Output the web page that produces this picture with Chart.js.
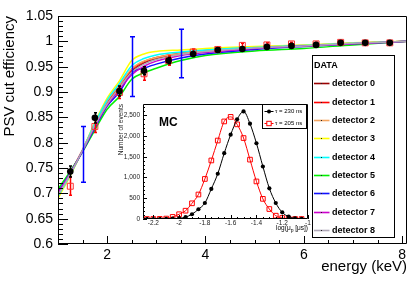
<!DOCTYPE html>
<html>
<head>
<meta charset="utf-8">
<script src="https://cdn.jsdelivr.net/npm/chart.js@4.4.0/dist/chart.umd.min.js"></script>
<style>
  html, body { margin: 0; padding: 0; background: #fff; }
  #wrap { position: relative; width: 415px; height: 281px; }
  #main { position: absolute; left: 0; top: 0; }
  #inset { position: absolute; left: 110px; top: 97px; }
</style>
</head>
<body>
<div id="wrap">
  <canvas id="main" width="415" height="281"></canvas>
  <canvas id="inset" width="205" height="138"></canvas>
</div>
<script>
const FONT = '"Liberation Sans", Arial, Helvetica, sans-serif';

// ---- main plot: efficiency vs energy ----
const xTicks = [2, 4, 6, 8];
const yTicks = [0.6, 0.65, 0.7, 0.75, 0.8, 0.85, 0.9, 0.95, 1.0, 1.05];
const yTickLabels = ['0.6', '0.65', '0.7', '0.75', '0.8', '0.85', '0.9', '0.95', '1', '1.05'];

const energy = [1.25, 1.75, 2.25, 2.75, 3.25, 3.75, 4.25, 4.75, 5.25, 5.75, 6.25, 6.75, 7.25, 7.75];
const effBlack = [0.743, 0.849, 0.902, 0.942, 0.962, 0.975, 0.983, 0.985, 0.989, 0.991, 0.993, 0.997, 0.997, 0.997];
const errBlack = [0.011, 0.010, 0.010, 0.008, 0.006, 0.005, 0.004, 0.004, 0.003, 0.003, 0.003, 0.003, 0.003, 0.003];
const effRed = [0.714, 0.832, 0.899, 0.936, 0.962, 0.979, 0.984, 0.992, 0.993, 0.995, 0.995, 0.998, 0.997, 0.997];
const errRed = [0.018, 0.012, 0.012, 0.013, 0.009, 0.006, 0.005, 0.004, 0.004, 0.003, 0.003, 0.003, 0.003, 0.003];

const blueE = [1.5, 2.5, 3.5];
const blueEff = [0.777, 0.950, 0.976];
const blueErr = [0.055, 0.059, 0.048];

const curveE = [1.0, 1.25, 1.5, 1.75, 2.0, 2.25, 2.5, 2.75, 3.0, 3.5, 4.0, 5.0, 6.0, 7.0, 8.1];
const det0 = [0.697, 0.739, 0.785, 0.835, 0.878, 0.911, 0.941, 0.957, 0.966, 0.975, 0.980, 0.987, 0.991, 0.996, 1.000];
const det1 = [0.698, 0.740, 0.786, 0.836, 0.880, 0.913, 0.944, 0.960, 0.968, 0.977, 0.982, 0.988, 0.992, 0.996, 1.000];
const det2 = [0.693, 0.737, 0.785, 0.837, 0.882, 0.914, 0.946, 0.961, 0.968, 0.976, 0.981, 0.987, 0.991, 0.996, 1.000];
const det3 = [0.690, 0.735, 0.785, 0.840, 0.888, 0.922, 0.962, 0.975, 0.980, 0.983, 0.986, 0.990, 0.993, 0.997, 1.000];
const det4 = [0.694, 0.737, 0.785, 0.838, 0.884, 0.917, 0.952, 0.966, 0.973, 0.979, 0.983, 0.988, 0.992, 0.996, 1.000];
const det5 = [0.708, 0.744, 0.782, 0.825, 0.866, 0.891, 0.925, 0.938, 0.947, 0.962, 0.972, 0.981, 0.986, 0.993, 1.000];
const det6 = [0.702, 0.741, 0.783, 0.829, 0.872, 0.900, 0.938, 0.947, 0.955, 0.967, 0.975, 0.984, 0.990, 0.995, 1.000];
const det7 = [0.700, 0.740, 0.784, 0.832, 0.874, 0.905, 0.934, 0.951, 0.961, 0.972, 0.978, 0.986, 0.991, 0.995, 1.000];
const det8 = [0.696, 0.738, 0.785, 0.834, 0.876, 0.909, 0.939, 0.955, 0.964, 0.974, 0.980, 0.987, 0.991, 0.996, 1.000];
const detCurves = [det0, det1, det2, det3, det4, det5, det6, det7, det8];
const detNames = ['detector 0', 'detector 1', 'detector 2', 'detector 3', 'detector 4',
                  'detector 5', 'detector 6', 'detector 7', 'detector 8'];
const detColors = ['#990000', '#ff0000', '#f4a460', '#ffff00', '#00ffff',
                   '#00ee00', '#1010ff', '#cc00cc', '#b0a8b8'];

// ---- inset: MC distributions ----
const mcX = [-2.25, -2.2, -2.15, -2.1, -2.05, -2.0, -1.95, -1.9, -1.85, -1.8, -1.75, -1.7, -1.65,
             -1.6, -1.55, -1.5, -1.45, -1.4, -1.35, -1.3, -1.25, -1.2, -1.15, -1.1, -1.05];
const tau230 = [0, 0, 0, 5, 10, 18, 45, 115, 235, 385, 725, 1090, 1585,
                2030, 2400, 2590, 2295, 1825, 1265, 740, 385, 160, 56, 15, 3];
const tau205 = [0, 0, 3, 10, 50, 115, 200, 378, 590, 965, 1410, 1890, 2350,
                2460, 2280, 1950, 1430, 905, 485, 240, 80, 25, 6, 0, 0];
const mcXTicks = [-2.2, -2.0, -1.8, -1.6, -1.4, -1.2, -1.0];
const mcXLabels = ['-2.2', '-2', '-1.8', '-1.6', '-1.4', '-1.2', '-1'];
const mcYTicks = [0, 500, 1000, 1500, 2000, 2500];

const pts = (xs, ys) => xs.map((x, i) => ({ x: x, y: ys[i] }));

// error bars drawn under each dataset that carries them
const errorBars = {
  id: 'errorBars',
  beforeDatasetDraw(chart, args) {
    const ds = chart.data.datasets[args.index];
    if (!ds.errors) return;
    const { ctx, scales: { x, y } } = chart;
    ctx.save();
    ctx.strokeStyle = ds.errorColor;
    ctx.lineWidth = ds.errorWidth;
    ds.data.forEach((p, i) => {
      const px = Math.round(x.getPixelForValue(p.x)) + 0.5;
      const top = y.getPixelForValue(p.y + ds.errors[i]);
      const bot = y.getPixelForValue(p.y - ds.errors[i]);
      const c = ds.capWidth;
      ctx.beginPath();
      ctx.moveTo(px, top); ctx.lineTo(px, bot);
      ctx.moveTo(px - c, top); ctx.lineTo(px + c, top);
      ctx.moveTo(px - c, bot); ctx.lineTo(px + c, bot);
      ctx.stroke();
    });
    ctx.restore();
  }
};

// ROOT-like frame with ticks pointing inwards
function frameTicks(cfg) {
  return {
    id: 'frameTicks',
    afterDraw(chart) {
      const { ctx, chartArea: a, scales: { x, y } } = chart;
      const L = Math.round(a.left), T = Math.round(a.top), R = Math.round(a.right), B = Math.round(a.bottom);
      ctx.save();
      ctx.strokeStyle = '#000';
      ctx.lineWidth = 1;
      ctx.beginPath();
      ctx.rect(L + 0.5, T + 0.5, R - L - 1, B - T - 1);
      const minors = (s, step) => {
        const out = [];
        const n0 = Math.ceil(s.min / step - 1e-6), n1 = Math.floor(s.max / step + 1e-6);
        for (let n = n0; n <= n1; n++) out.push(n * step);
        return out;
      };
      minors(y, cfg.yMinor).forEach(v => {
        const py = Math.round(y.getPixelForValue(v)) + 0.5;
        ctx.moveTo(L, py); ctx.lineTo(L + cfg.minorLen, py);
      });
      y.ticks.forEach(t => {
        const py = Math.round(y.getPixelForValue(t.value)) + 0.5;
        ctx.moveTo(L, py); ctx.lineTo(L + cfg.majorLen, py);
      });
      minors(x, cfg.xMinor).forEach(v => {
        const px = Math.round(x.getPixelForValue(v)) + 0.5;
        ctx.moveTo(px, B); ctx.lineTo(px, B - cfg.minorLenX);
      });
      x.ticks.forEach(t => {
        const px = Math.round(x.getPixelForValue(t.value)) + 0.5;
        ctx.moveTo(px, B); ctx.lineTo(px, B - cfg.majorLenX);
      });
      ctx.stroke();
      ctx.restore();
    }
  };
}

const mainLegend = {
  id: 'mainLegend',
  afterDraw(chart) {
    const ctx = chart.ctx;
    ctx.save();
    ctx.fillStyle = '#fff';
    ctx.fillRect(312, 55, 83, 183);
    ctx.strokeStyle = '#000';
    ctx.lineWidth = 1;
    ctx.strokeRect(312.5, 55.5, 82, 182);
    ctx.fillStyle = '#000';
    ctx.textBaseline = 'middle';
    ctx.font = 'bold 9px ' + FONT;
    ctx.fillText('DATA', 314, 65.5);
    detNames.forEach((name, i) => {
      const yy = Math.round(83.3 + 18.35 * i) + 0.5;
      ctx.strokeStyle = detColors[i];
      ctx.lineWidth = 1.6;
      ctx.beginPath(); ctx.moveTo(314, yy); ctx.lineTo(329.5, yy); ctx.stroke();
      ctx.fillStyle = '#222';
      ctx.fillRect(321, yy - 0.5, 1, 1);
      ctx.fillStyle = '#000';
      ctx.fillText(name, 332, yy);
    });
    ctx.restore();
  }
};

const detDatasets = detCurves.map((vals, i) => ({
  label: detNames[i],
  data: pts(curveE, vals),
  showLine: true,
  borderColor: detColors[i],
  borderWidth: 1.5,
  pointRadius: 0,
  cubicInterpolationMode: 'monotone',
  order: 20 - i
}));

new Chart(document.getElementById('main'), {
  type: 'scatter',
  data: {
    datasets: [
      ...detDatasets,
      { label: 'blue', data: pts(blueE, blueEff), pointRadius: 0, errors: blueErr,
        errorColor: '#0000ff', errorWidth: 1.5, capWidth: 2.5, order: 2 },
      { label: 'red', data: pts(energy, effRed), pointStyle: 'rect', pointRadius: 4.2,
        pointBackgroundColor: 'rgba(0,0,0,0)', pointBorderColor: '#ff3030', pointBorderWidth: 1,
        errors: errRed, errorColor: '#ff0000', errorWidth: 1.5, capWidth: 1.5, order: 1 },
      { label: 'black', data: pts(energy, effBlack), pointStyle: 'circle', pointRadius: 3.3,
        pointBackgroundColor: '#000', pointBorderColor: '#000', pointBorderWidth: 0,
        errors: errBlack, errorColor: '#000', errorWidth: 1.5, capWidth: 1.5, order: 0 }
    ]
  },
  options: {
    responsive: false,
    animation: false,
    devicePixelRatio: 1,
    layout: { padding: { top: 16, right: 8, left: 0, bottom: 0 } },
    plugins: { legend: { display: false }, tooltip: { enabled: false } },
    scales: {
      x: {
        type: 'linear', min: 1.0, max: 8.1,
        afterBuildTicks: s => { s.ticks = xTicks.map(v => ({ value: v })); },
        afterFit: s => { s.height = 37; },
        grid: { display: false, drawTicks: false }, border: { display: false },
        ticks: { color: '#000', font: { family: FONT, size: 14 }, padding: 3, maxRotation: 0, autoSkip: false },
        title: { display: true, text: 'energy (keV)', align: 'end', color: '#000',
                 font: { family: FONT, size: 15 }, padding: { top: 0, bottom: 5 } }
      },
      y: {
        type: 'linear', min: 0.6, max: 1.05,
        afterBuildTicks: s => { s.ticks = yTicks.map(v => ({ value: v })); },
        afterFit: s => { s.width = 58; },
        grid: { display: false, drawTicks: false }, border: { display: false },
        ticks: { color: '#000', font: { family: FONT, size: 14 }, padding: 5, autoSkip: false,
                 callback: (v, i) => yTickLabels[i] },
        title: { display: true, text: 'PSV cut efficiency', align: 'end', color: '#000',
                 font: { family: FONT, size: 15 }, padding: { top: 1, bottom: 0 } }
      }
    }
  },
  plugins: [errorBars, frameTicks({ yMinor: 0.01, xMinor: 0.5, majorLen: 10, minorLen: 5, majorLenX: 8, minorLenX: 4 }), mainLegend]
});

// inset labels, legend and axis title
const insetDecor = {
  id: 'insetDecor',
  afterDraw(chart) {
    const { ctx, chartArea: a } = chart;
    ctx.save();
    ctx.fillStyle = '#000';
    ctx.textBaseline = 'alphabetic';
    ctx.font = 'bold 12px ' + FONT;
    ctx.fillText('MC', 49, 28.5);

    // x title with subscript
    const parts = [['log(\u03bc', 6.5, 0], ['p', 5, 1.5], [' [\u03bcs])', 6.5, 0]];
    let w = 0;
    parts.forEach(p => { ctx.font = p[1] + 'px ' + FONT; w += ctx.measureText(p[0]).width; });
    let xx = a.right - w;
    parts.forEach(p => {
      ctx.font = p[1] + 'px ' + FONT;
      ctx.fillText(p[0], xx, 133 + p[2]);
      xx += ctx.measureText(p[0]).width;
    });

    // legend box
    ctx.fillStyle = '#fff';
    ctx.fillRect(153, 7, 44, 24);
    ctx.strokeStyle = '#000';
    ctx.lineWidth = 1;
    ctx.strokeRect(152.5, 7.5, 44, 24);
    ctx.font = '6px ' + FONT;
    ctx.textBaseline = 'middle';
    chart.data.datasets.forEach((ds, i) => {
      const yy = i === 0 ? 14.5 : 26.5;
      ctx.strokeStyle = ds.borderColor;
      ctx.lineWidth = 1;
      ctx.beginPath(); ctx.moveTo(154.5, yy); ctx.lineTo(163.5, yy); ctx.stroke();
      if (i === 0) {
        ctx.fillStyle = '#000';
        ctx.beginPath(); ctx.arc(159, yy, 2, 0, Math.PI * 2); ctx.fill();
      } else {
        ctx.fillStyle = '#fff';
        ctx.fillRect(156.8, yy - 2.2, 4.4, 4.4);
        ctx.strokeRect(156.8, yy - 2.2, 4.4, 4.4);
      }
      ctx.fillStyle = '#000';
      ctx.fillText(ds.label, 165, yy);
    });
    ctx.restore();
  }
};

new Chart(document.getElementById('inset'), {
  type: 'scatter',
  data: {
    datasets: [
      { label: '\u03c4 = 230 ns', data: pts(mcX, tau230), showLine: true, borderColor: '#000', borderWidth: 1,
        cubicInterpolationMode: 'monotone', pointStyle: 'circle', pointRadius: 2.1,
        pointBackgroundColor: '#000', pointBorderWidth: 0 },
      { label: '\u03c4 = 205 ns', data: pts(mcX, tau205), showLine: true, borderColor: '#ff0000', borderWidth: 1,
        cubicInterpolationMode: 'monotone', pointStyle: 'rect', pointRadius: 3.3,
        pointBackgroundColor: 'rgba(0,0,0,0)', pointBorderColor: '#ff0000', pointBorderWidth: 1 }
    ]
  },
  options: {
    responsive: false,
    animation: false,
    devicePixelRatio: 1,
    layout: { padding: { top: 7, right: 7, left: 0, bottom: 0 } },
    plugins: { legend: { display: false }, tooltip: { enabled: false } },
    scales: {
      x: {
        type: 'linear', min: -2.28, max: -1.0,
        afterBuildTicks: s => { s.ticks = mcXTicks.map(v => ({ value: v })); },
        afterFit: s => { s.height = 16; },
        grid: { display: false, drawTicks: false }, border: { display: false },
        ticks: { color: '#222', font: { family: FONT, size: 6.5 }, padding: 0, maxRotation: 0, autoSkip: false,
                 callback: (v, i) => mcXLabels[i] }
      },
      y: {
        type: 'linear', min: 0, max: 2770,
        afterBuildTicks: s => { s.ticks = mcYTicks.map(v => ({ value: v })); },
        afterFit: s => { s.width = 33; },
        grid: { display: false, drawTicks: false }, border: { display: false },
        ticks: { color: '#222', font: { family: FONT, size: 6.5 }, padding: 3, autoSkip: false },
        title: { display: true, text: 'Number of events', align: 'end', color: '#222',
                 font: { family: FONT, size: 6.5 }, padding: { top: 7.8, bottom: 0 } }
      }
    }
  },
  plugins: [frameTicks({ yMinor: 100, xMinor: 0.05, majorLen: 4, minorLen: 2, majorLenX: 4, minorLenX: 2 }), insetDecor]
});
</script>
</body>
</html>
